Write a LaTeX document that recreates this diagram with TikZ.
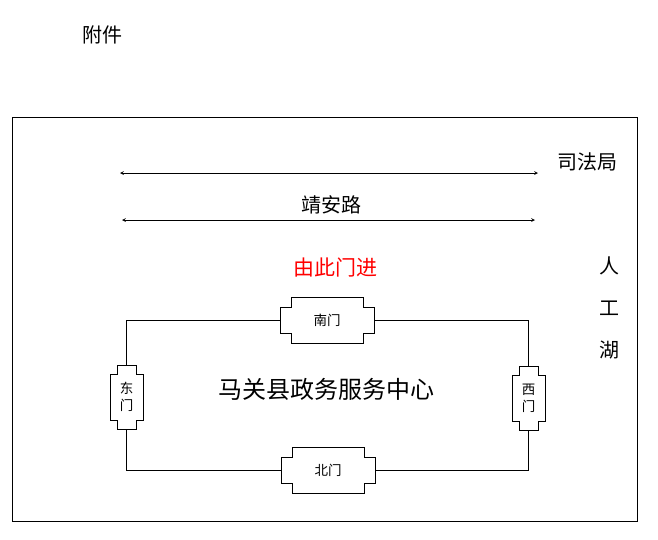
\documentclass[tikz,border=0pt]{standalone}
\usepackage{fontspec}
\setmainfont{Noto Sans CJK SC}
\usepackage{tikz}
\usetikzlibrary{arrows}
\tikzstyle{gatewide} = [rectangle, minimum width=94pt, minimum height=45pt, inner sep=0pt, text centered, font=\fontsize{13.5}{15}\selectfont]
\tikzstyle{gatetall} = [rectangle, minimum width=33pt, minimum height=64pt, inner sep=0pt, align=center, font=\fontsize{13.5}{17}\selectfont]
\tikzstyle{road} = [line width=0.7pt,<->,>=stealth]
\tikzstyle{label} = [font=\fontsize{20}{22}\selectfont]
% notched outline of a gate: node, notch width, notch height
\newcommand{\gateoutline}[3]{
  \draw ([xshift=#2]#1.north west) -- ([xshift=-#2]#1.north east) -- ([xshift=-#2,yshift=-#3]#1.north east)
    -- ([yshift=-#3]#1.north east) -- ([yshift=#3]#1.south east) -- ([xshift=-#2,yshift=#3]#1.south east)
    -- ([xshift=-#2]#1.south east) -- ([xshift=#2]#1.south west) -- ([xshift=#2,yshift=#3]#1.south west)
    -- ([yshift=#3]#1.south west) -- ([yshift=-#3]#1.north west) -- ([xshift=#2,yshift=-#3]#1.north west) -- cycle;
}

\begin{document}
\begin{tikzpicture}[x=1pt, y=-1pt]
        \useasboundingbox (0,0) rectangle (658,539);
        \node (title) [label] at (102,35) {附件};
        \draw (12,117) rectangle (637,521);

        \coordinate (road1w) at (120,173);
        \coordinate (road1e) at (538,173);
        \coordinate (road2w) at (122,220);
        \coordinate (road2e) at (535,220);
        \draw [road] (road1w) -- (road1e);
        \draw [road] (road2w) -- (road2e);
        \node (sifaju) [label] at (587,162) {司法局};
        \node (jinganlu) [label] at (331,205) {靖安路};
        \node (entry) [label, text=red, font=\fontsize{21}{23}\selectfont] at (335,268) {由此门进};
        \node (lake) [label, align=center, font=\fontsize{20}{42}\selectfont] at (609,308) {人\\工\\湖};

        \node (nanmen) [gatewide] at (327,320) {南门};
        \node (beimen) [gatewide] at (328,470) {北门};
        \node (dongmen) [gatetall] at (126.5,397) {东\\门};
        \node (ximen) [gatetall] at (528.5,398) {西\\门};
        \gateoutline{nanmen}{11pt}{10pt}
        \gateoutline{beimen}{11pt}{10pt}
        \gateoutline{dongmen}{7pt}{9pt}
        \gateoutline{ximen}{7pt}{9pt}

        \draw (nanmen.west) -| (dongmen.north);
        \draw (nanmen.east) -| (ximen.north);
        \draw (beimen.west) -| (dongmen.south);
        \draw (beimen.east) -| (ximen.south);

        \node (center) [font=\fontsize{24}{26}\selectfont] at (326,389) {马关县政务服务中心};
    \end{tikzpicture}
\end{document}
